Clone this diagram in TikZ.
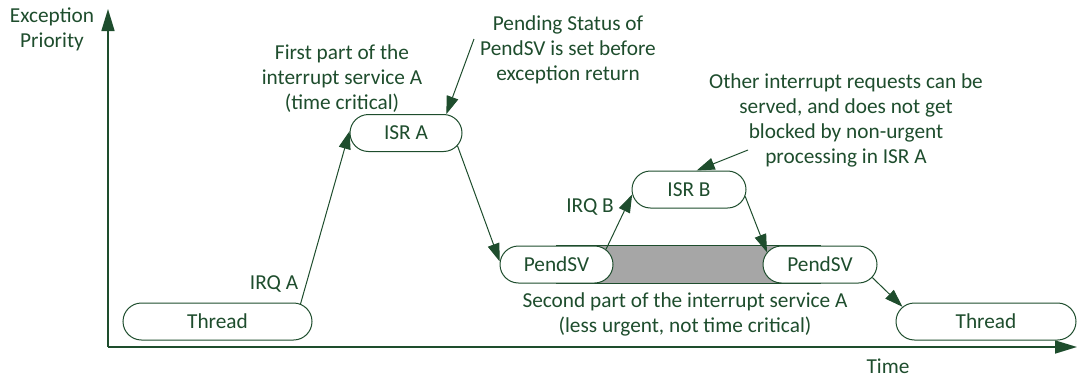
\documentclass[tikz,border=0pt]{standalone}
\usepackage{fontspec}
\setmainfont{Carlito}
\usetikzlibrary{arrows.meta,shapes.misc,backgrounds}
\definecolor{dg}{RGB}{30,77,45}
\definecolor{shade}{RGB}{166,166,166}
\tikzset{
  every node/.style={text=dg, font=\fontsize{21.3}{25}\selectfont},
  stadium/.style={rounded rectangle, draw=dg, line width=1pt, fill=white, minimum height=37pt, inner sep=0pt},
  conn/.style={draw=dg, line width=1pt, -{Triangle[length=18pt,width=12pt]}},
  axis/.style={draw=dg, line width=1.6pt, -{Triangle[length=22pt,width=13pt]}},
  lbl/.style={align=center, inner sep=0pt}
}
\begin{document}
\begin{tikzpicture}[x=1pt,y=-1pt]
\useasboundingbox (0,0) rectangle (1077,378);
% axes
\coordinate (o) at (108,347);
\coordinate (ytop) at (108,9);
\coordinate (xend) at (1077,347);
\draw[axis] (o) -- (ytop);
\draw[axis] (o) -- (xend);
\node[lbl] (eprio) at (52,29) {Exception\\Priority};
\node[lbl] (time) at (888,366) {Time};
% boxes
\node[stadium, minimum width=189pt] (thread1) at (217.5,321.5) {Thread};
\node[stadium, minimum width=112pt] (isra) at (406,133) {ISR A};
\node[stadium, minimum width=113pt] (pend1) at (556.5,264.5) {PendSV};
\node[stadium, minimum width=114pt] (isrb) at (689,189.5) {ISR B};
\node[stadium, minimum width=114pt] (pend2) at (820,264.5) {PendSV};
\node[stadium, minimum width=180pt] (thread2) at (986,321.5) {Thread};
\begin{scope}[on background layer]
\draw[dg, line width=1pt, fill=shade] (pend1.north) rectangle (pend2.south);
\end{scope}
% labels
\node[lbl] (irqa) at (274,284) {IRQ A};
\node[lbl] (irqb) at (590,207) {IRQ B};
\node[lbl] (first) at (342,79) {First part of the\\interrupt service A\\(time critical)};
\node[lbl] (pending) at (568,50) {Pending Status of\\PendSV is set before\\exception return};
\node[lbl] (other) at (846,120) {Other interrupt requests can be\\served, and does not get\\blocked by non-urgent\\processing in ISR A};
\node[lbl] (second) at (685,314) {Second part of the interrupt service A\\(less urgent, not time critical)};
% connectors
\draw[conn] (thread1.12) -- (isra.178);
\draw[conn] (isra.-14) -- (pend1.177);
\draw[conn] (pend1.17) -- (isrb.185);
\draw[conn] (isrb.-7) -- (pend2.167);
\draw[conn] (pend2.-14) -- (thread2.170);
\coordinate (pendtail) at (474,39);
\draw[conn] (pendtail) -- (isra.25);
\coordinate (othertail) at (748,150);
\draw[conn] (othertail) -- (isrb.68);
\end{tikzpicture}
\end{document}
